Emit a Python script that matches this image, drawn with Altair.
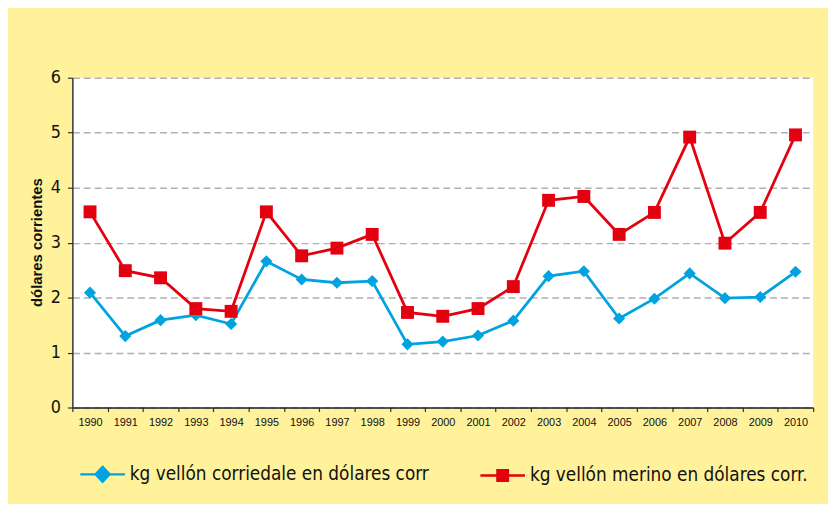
import altair as alt
import pandas as pd

years = [str(y) for y in range(1990, 2011)]
corriedale = [2.09, 1.30, 1.59, 1.68, 1.52, 2.66, 2.33, 2.27, 2.30, 1.15, 1.20,
              1.31, 1.58, 2.39, 2.48, 1.62, 1.98, 2.44, 1.99, 2.01, 2.47]
merino = [3.56, 2.49, 2.36, 1.80, 1.75, 3.56, 2.76, 2.90, 3.15, 1.73, 1.66,
          1.80, 2.20, 3.77, 3.84, 3.15, 3.55, 4.92, 2.99, 3.55, 4.96]
series_names = ["kg vellón corriedale en dólares corr", "kg vellón merino en dólares corr."]
colors = ["#00A3E0", "#E3000F"]
y_ticks = [0, 1, 2, 3, 4, 5, 6]
legend_paths = [
    "M-4.5,0H4.5M0,-1.5L1.4,0L0,1.5L-1.4,0Z",
    "M-4.5,0H4.5M-1.05,-1.05H1.05V1.05H-1.05Z",
]

rows = []
for name, vals in zip(series_names, [corriedale, merino]):
    for yr, v in zip(years, vals):
        rows.append({"year": yr, "series": name, "value": v})
df = pd.DataFrame(rows)

NARROW = "DejaVu Sans Condensed"

x = alt.X("year:N", sort=years,
          scale=alt.Scale(type="band", paddingInner=0, paddingOuter=0),
          axis=alt.Axis(title=None, labelAngle=0, tickBand="extent",
                        labelFont="Liberation Sans", labelFontSize=11, labelColor="#111",
                        labelPadding=5, tickSize=4, tickColor="#333", tickWidth=1.2,
                        domainColor="#222", domainWidth=1.5, grid=False))
y = alt.Y("value:Q", scale=alt.Scale(domain=[0, 6], nice=False),
          axis=alt.Axis(values=y_ticks, title="dólares corrientes",
                        labelFont=NARROW, labelFontSize=18, labelColor="#111",
                        labelPadding=7, tickSize=5, tickColor="#333", tickWidth=1.2,
                        domainColor="#333", domainWidth=1.5,
                        grid=True, gridColor="#b0b0b0", gridDash=[7, 4], gridWidth=1.5,
                        titleFont="Liberation Sans", titleFontSize=15, titleFontWeight="bold",
                        titleColor="#111", titleX=-36, titleY=166, titleAngle=270,
                        titleBaseline="middle", titleAlign="center"))

base = alt.Chart(df)

layers = []
for name, col, shp, sz in zip(series_names, colors, ["diamond", "square"], [150, 170]):
    sub = base.transform_filter(alt.datum.series == name)
    layers.append(sub.mark_line(strokeWidth=2.8, color=col).encode(x=x, y=y))
    layers.append(sub.mark_point(filled=True, opacity=1, shape=shp, size=sz, color=col).encode(x=x, y=y))

leg = alt.Legend(orient="none", legendX=21, legendY=391, direction="horizontal",
                 columns=2, title=None, labelFont=NARROW,
                 labelFontSize=19, labelColor="#111", labelOffset=18,
                 symbolSize=100, symbolStrokeWidth=2.5, columnPadding=46,
                 labelLimit=500, symbolOpacity=1)

ghost = base.transform_filter("datum.value < -100").mark_point(
    filled=True, strokeWidth=2.5).encode(
    x=x, y=y,
    shape=alt.Shape("series:N", scale=alt.Scale(domain=series_names, range=legend_paths), legend=leg),
    fill=alt.Fill("series:N", scale=alt.Scale(domain=series_names, range=colors), legend=leg),
    stroke=alt.Stroke("series:N", scale=alt.Scale(domain=series_names, range=colors), legend=leg),
)
layers.append(ghost)

chart = alt.layer(*layers).properties(
    width=748, height=333,
    autosize=alt.AutoSizeParams(type="none"),
    padding={"left": 65, "top": 68, "right": 15, "bottom": 95},
    background="#FFF29B",
).configure_view(fill="white", stroke=None)

chart.save("out.html", embed_options={"renderer": "svg", "actions": False})
